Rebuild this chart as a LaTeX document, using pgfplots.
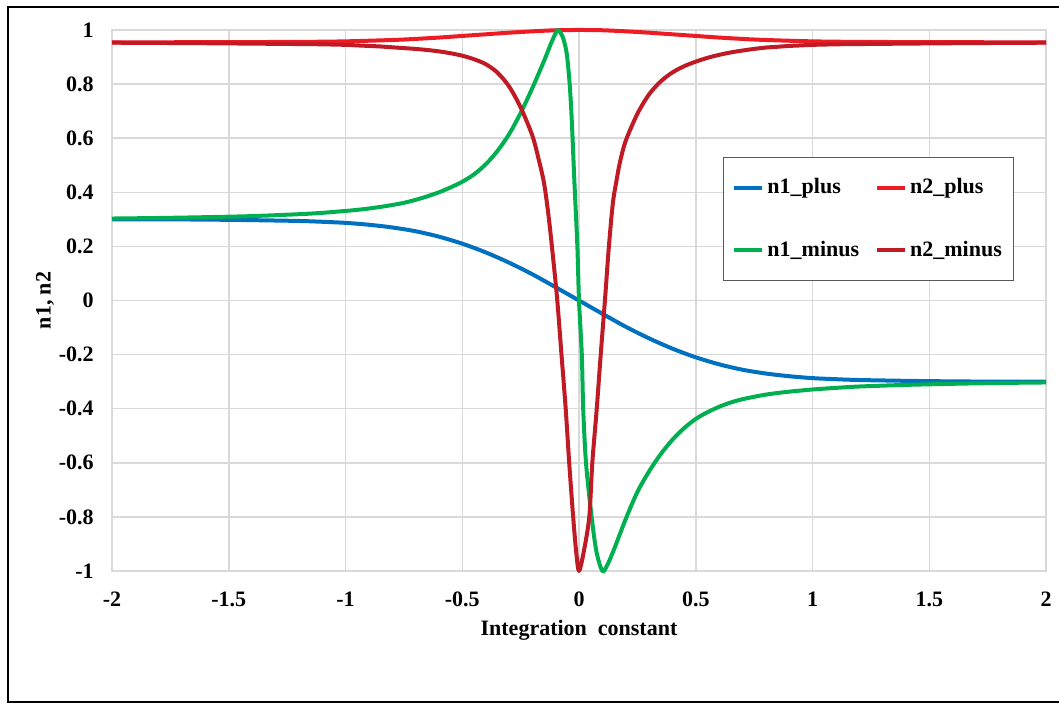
\documentclass[border=0pt]{standalone}
\usepackage{fontspec}
\setmainfont{Liberation Serif}
\usepackage{pgfplots}
\pgfplotsset{compat=1.18}

\definecolor{cblue}{RGB}{0,112,192}
\definecolor{cred}{RGB}{237,28,36}
\definecolor{cgreen}{RGB}{0,176,80}
\definecolor{cdred}{RGB}{192,26,36}
\definecolor{cgrid}{RGB}{217,217,217}

\begin{document}
\begin{tikzpicture}[font=\fontsize{11}{13}\selectfont\bfseries]
% page: 1 px of the reference = 0.5pt
\useasboundingbox (-56pt,-66.5pt) rectangle (473.5pt,285.5pt);
\draw[line width=1.2pt] (473.5pt,282pt) -- (-52pt,282pt) -- (-52pt,-65.5pt) -- (473.5pt,-65.5pt);

\begin{axis}[
    scale only axis,
    width=467pt, height=270.5pt,
    xmin=-2, xmax=2, ymin=-1, ymax=1,
    enlargelimits=false,
    clip=false,
    xtick={-2,-1.5,-1,-0.5,0,0.5,1,1.5,2},
    ytick={-1,-0.8,-0.6,-0.4,-0.2,0,0.2,0.4,0.6,0.8,1},
    /pgf/number format/assume math mode=true,
    tick label style={font=\fontsize{11}{13}\selectfont\bfseries},
    yticklabel style={xshift=-5.6pt},
    xticklabel style={yshift=-6.8pt},
    major tick length=0pt,
    grid=major,
    grid style={cgrid, line width=0.75pt},
    axis line style={cgrid, line width=0.75pt},
    xlabel={Integration~~constant},
    ylabel={n1, n2},
    xlabel style={at={(axis description cs:0.5,-0.109)}, anchor=center},
    ylabel style={at={(axis description cs:-0.0717,0.5)}, anchor=center},
    legend columns=2,
    legend cell align=left,
    legend image code/.code={\draw[#1] (0pt,0pt) -- (14pt,0pt);},
    legend style={at={(0.654,0.765)}, anchor=north west,
        draw=black!65, line width=0.6pt, fill=white,
        inner xsep=4.5pt, inner ysep=8.5pt, row sep=18pt,
        nodes={inner xsep=1.5pt, inner ysep=2pt},
        /tikz/every even column/.append style={column sep=6.5pt},
        font=\fontsize{11}{13}\selectfont\bfseries},
    every axis plot/.append style={line width=2pt, line join=round, smooth, tension=0.5},
]

\addplot[cblue, mark=none] coordinates {
(-2,0.300)(-1.8,0.300)(-1.6,0.299)(-1.4,0.297)(-1.2,0.294)(-1.1,0.291)(-1.0,0.287)
(-0.9,0.280)(-0.8,0.270)(-0.7,0.256)(-0.6,0.236)(-0.5,0.210)(-0.4,0.178)
(-0.3,0.140)(-0.2,0.097)(-0.1,0.049)(0,0)(0.1,-0.049)(0.2,-0.097)
(0.3,-0.140)(0.4,-0.178)(0.5,-0.210)(0.6,-0.236)(0.7,-0.256)(0.8,-0.270)
(0.9,-0.280)(1.0,-0.287)(1.1,-0.291)(1.2,-0.294)(1.4,-0.297)(1.6,-0.299)(1.8,-0.300)(2,-0.300)
};
\addlegendentry{n1\_plus}

\addplot[cred, mark=none] coordinates {
(-2,0.954)(-1.6,0.955)(-1.2,0.956)(-1.0,0.958)(-0.8,0.963)(-0.7,0.967)
(-0.6,0.972)(-0.5,0.978)(-0.4,0.984)(-0.3,0.990)(-0.2,0.995)(-0.1,0.999)
(0,1)(0.1,0.999)(0.2,0.995)(0.3,0.990)(0.4,0.984)(0.5,0.978)(0.6,0.972)
(0.7,0.967)(0.8,0.963)(1.0,0.958)(1.2,0.956)(1.6,0.955)(2,0.954)
};
\addlegendentry{n2\_plus}

\addplot[cgreen, mark=none] coordinates {
(-2,0.303)(-1.8,0.305)(-1.6,0.308)(-1.4,0.312)(-1.2,0.319)(-1.1,0.324)
(-1.0,0.331)(-0.95,0.335)(-0.9,0.340)(-0.85,0.346)(-0.8,0.353)(-0.75,0.361)
(-0.7,0.372)(-0.65,0.385)(-0.6,0.400)(-0.55,0.418)(-0.5,0.439)(-0.45,0.466)
(-0.4,0.503)(-0.35,0.552)(-0.3,0.614)(-0.25,0.693)(-0.2,0.785)(-0.15,0.885)
(-0.12,0.950)(-0.1,0.988)(-0.09,1.0)(-0.07,0.975)(-0.053,0.915)(-0.04,0.80)
(-0.031,0.667)(-0.02,0.445)(-0.007,0.2)(0,0)(0.012,-0.2)(0.018,-0.4)
(0.03,-0.6)(0.054,-0.8)(0.075,-0.93)(0.1,-1.0)(0.12,-0.98)(0.15,-0.92)
(0.2,-0.808)(0.25,-0.708)(0.3,-0.632)(0.35,-0.568)(0.4,-0.515)(0.45,-0.472)
(0.5,-0.438)(0.55,-0.413)(0.6,-0.393)(0.65,-0.377)(0.7,-0.365)(0.75,-0.356)
(0.8,-0.348)(0.85,-0.342)(0.9,-0.337)(0.95,-0.333)(1.0,-0.329)(1.1,-0.323)
(1.2,-0.318)(1.4,-0.312)(1.6,-0.308)(1.8,-0.305)(2,-0.303)
};
\addlegendentry{n1\_minus}

\addplot[cdred, mark=none] coordinates {
(-2,0.953)(-1.6,0.951)(-1.2,0.948)(-1.1,0.947)(-1.0,0.945)(-0.95,0.943)
(-0.9,0.941)(-0.85,0.939)(-0.8,0.936)(-0.75,0.933)(-0.7,0.930)(-0.65,0.926)
(-0.6,0.921)(-0.55,0.914)(-0.5,0.905)(-0.45,0.892)(-0.4,0.874)(-0.35,0.843)
(-0.3,0.792)(-0.25,0.714)(-0.2,0.610)(-0.175,0.530)(-0.15,0.435)(-0.13,0.310)
(-0.11,0.150)(-0.093,0.0)(-0.075,-0.2)(-0.057,-0.4)(-0.042,-0.6)(-0.025,-0.8)
(-0.012,-0.93)(0,-1)(0.02,-0.93)(0.044,-0.8)(0.057,-0.6)(0.076,-0.4)
(0.093,-0.2)(0.111,0.0)(0.128,0.2)(0.145,0.36)(0.16,0.44)(0.175,0.51)
(0.2,0.59)(0.25,0.69)(0.3,0.762)(0.35,0.810)(0.4,0.843)(0.45,0.866)
(0.5,0.883)(0.55,0.897)(0.6,0.908)(0.65,0.917)(0.7,0.924)(0.75,0.930)
(0.8,0.935)(0.85,0.938)(0.9,0.941)(0.95,0.943)(1.0,0.945)(1.1,0.947)
(1.2,0.948)(1.6,0.951)(2,0.953)
};
\addlegendentry{n2\_minus}

\end{axis}
\end{tikzpicture}
\end{document}
